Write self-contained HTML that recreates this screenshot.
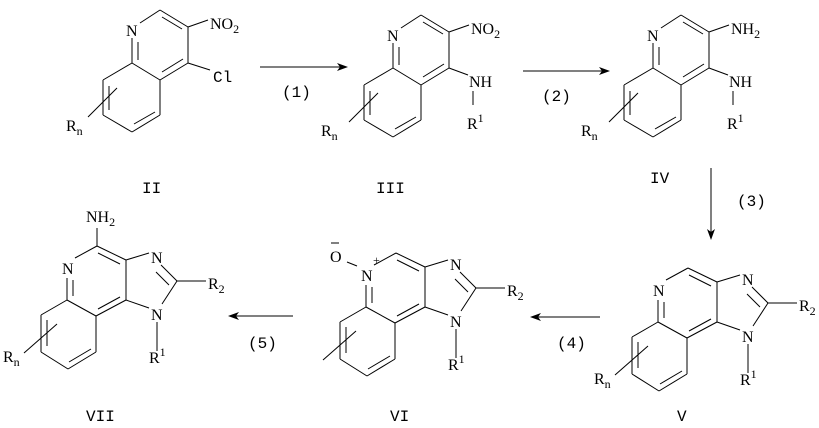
<!DOCTYPE html>
<html><head><meta charset="utf-8"><style>
html,body{margin:0;padding:0;background:#fff;}
svg{display:block;}
.a{font-family:"Liberation Serif",serif;font-size:16px;fill:#000;}
.s{font-size:12px;}
.m{font-family:"Liberation Mono",monospace;font-size:16px;fill:#000;}
</style></head><body>
<svg width="819" height="428" viewBox="0 0 819 428" xmlns="http://www.w3.org/2000/svg">
<defs>
<g id="q" stroke="#000" stroke-width="1" fill="none">
<line x1="132" y1="38" x2="132" y2="63"/><line x1="138" y1="42" x2="138" y2="60"/>
<line x1="140" y1="23" x2="160" y2="10"/>
<line x1="160" y1="10" x2="188" y2="27"/><line x1="162" y1="17" x2="182" y2="29"/>
<line x1="188" y1="27" x2="188" y2="63"/>
<line x1="188" y1="63" x2="160" y2="80"/><line x1="183" y1="59" x2="162" y2="72"/>
<line x1="160" y1="80" x2="132" y2="63"/>
<line x1="160" y1="80" x2="160" y2="115"/>
<line x1="160" y1="115" x2="132" y2="132"/><line x1="155" y1="112" x2="134" y2="124"/>
<line x1="132" y1="132" x2="103" y2="115"/>
<line x1="103" y1="115" x2="103" y2="80"/><line x1="109" y1="86" x2="109" y2="110"/>
<line x1="103" y1="80" x2="132" y2="63"/>
<line x1="88" y1="117" x2="117" y2="88"/>
</g>
<g id="t" stroke="#000" stroke-width="1" fill="none">
<line x1="658" y1="300" x2="658" y2="322"/><line x1="664" y1="302" x2="664" y2="318"/>
<line x1="666" y1="280" x2="688" y2="268"/>
<line x1="688" y1="268" x2="717" y2="282"/><line x1="689" y1="275" x2="711" y2="286"/>
<line x1="717" y1="282" x2="717" y2="322"/>
<line x1="717" y1="322" x2="687" y2="338"/><line x1="711" y1="319" x2="689" y2="331"/>
<line x1="687" y1="338" x2="658" y2="322"/>
<line x1="658" y1="322" x2="632" y2="337"/>
<line x1="632" y1="337" x2="632" y2="374"/><line x1="638" y1="342" x2="638" y2="368"/>
<line x1="632" y1="374" x2="659" y2="391"/>
<line x1="659" y1="391" x2="687" y2="374"/><line x1="660" y1="384" x2="682" y2="371"/>
<line x1="687" y1="374" x2="687" y2="338"/>
<line x1="717" y1="282" x2="740" y2="275"/>
<line x1="752" y1="287" x2="768" y2="303"/><line x1="747" y1="294" x2="760" y2="307"/>
<line x1="768" y1="303" x2="753" y2="326"/>
<line x1="740" y1="330" x2="717" y2="322"/>
<line x1="768" y1="303" x2="797" y2="303"/>
<line x1="748" y1="344" x2="748" y2="373"/>
<line x1="615" y1="375" x2="648" y2="346"/>
</g>
<g id="tt">
<text class="a" x="742" y="285">N</text>
<text class="a" x="742" y="342">N</text>
<text class="a" x="799" y="311">R<tspan class="s" dy="4">2</tspan></text>
<text class="a" x="740" y="385">R<tspan class="s" dy="-7">1</tspan></text>
</g>
</defs>

<!-- II -->
<use href="#q"/>
<text class="a" x="126" y="36">N</text>
<line x1="188" y1="27" x2="208" y2="20" stroke="#000"/>
<text class="a" x="210" y="29">NO<tspan class="s" dy="4">2</tspan></text>
<line x1="188" y1="63" x2="210" y2="70" stroke="#000"/>
<text class="m" x="213" y="82">Cl</text>
<text class="a" x="66" y="131">R<tspan class="s" dy="4">n</tspan></text>
<text class="m" x="142" y="193">II</text>

<!-- arrow 1 -->
<line x1="260" y1="67" x2="342" y2="67" stroke="#000"/>
<path d="M348 67 L337 63 L340 67 L337 71 Z" fill="#000"/>
<text class="m" x="282" y="97">(1)</text>

<!-- III -->
<g transform="translate(261,5)">
<use href="#q"/>
<text class="a" x="126" y="36">N</text>
<line x1="188" y1="27" x2="208" y2="20" stroke="#000"/>
<text class="a" x="210" y="29">NO<tspan class="s" dy="4">2</tspan></text>
<line x1="188" y1="63" x2="207" y2="70" stroke="#000"/>
<text class="a" x="208" y="82">NH</text>
<line x1="212" y1="86" x2="212" y2="100" stroke="#000"/>
<text class="a" x="206" y="124">R<tspan class="s" dy="-7">1</tspan></text>
<text class="a" x="60" y="131">R<tspan class="s" dy="4">n</tspan></text>
</g>
<text class="m" x="376" y="193">III</text>

<!-- arrow 2 -->
<line x1="523" y1="71" x2="604" y2="71" stroke="#000"/>
<path d="M610 71 L599 67 L602 71 L599 75 Z" fill="#000"/>
<text class="m" x="542" y="101">(2)</text>

<!-- IV -->
<g transform="translate(521,5)">
<use href="#q"/>
<text class="a" x="126" y="36">N</text>
<line x1="188" y1="27" x2="208" y2="20" stroke="#000"/>
<text class="a" x="210" y="29">NH<tspan class="s" dy="4">2</tspan></text>
<line x1="188" y1="63" x2="207" y2="70" stroke="#000"/>
<text class="a" x="208" y="82">NH</text>
<line x1="212" y1="86" x2="212" y2="100" stroke="#000"/>
<text class="a" x="206" y="124">R<tspan class="s" dy="-7">1</tspan></text>
<text class="a" x="60" y="131">R<tspan class="s" dy="4">n</tspan></text>
</g>
<text class="m" x="650" y="183">IV</text>

<!-- arrow 3 -->
<line x1="711" y1="168" x2="711" y2="234" stroke="#000"/>
<path d="M711 240 L707 229 L711 232 L715 229 Z" fill="#000"/>
<text class="m" x="737" y="206">(3)</text>

<!-- V -->
<use href="#t"/><use href="#tt"/>
<text class="a" x="653" y="296">N</text>
<text class="a" x="594" y="384">R<tspan class="s" dy="4">n</tspan></text>
<text class="m" x="677" y="421">V</text>

<!-- arrow 4 -->
<line x1="600" y1="317" x2="536" y2="317" stroke="#000"/>
<path d="M530 317 L541 313 L538 317 L541 321 Z" fill="#000"/>
<text class="m" x="557" y="348">(4)</text>

<!-- VI -->
<g transform="translate(-292,-15)">
<use href="#t"/><use href="#tt"/>
<text class="a" x="653" y="296">N</text>
</g>
<text class="a" x="330" y="262">O</text>
<line x1="331" y1="243" x2="339" y2="243" stroke="#000"/>
<line x1="347" y1="262" x2="357" y2="266" stroke="#000"/>
<text class="a s" x="373" y="264">+</text>
<text class="m" x="390" y="421">VI</text>

<!-- arrow 5 -->
<line x1="293" y1="316" x2="234" y2="316" stroke="#000"/>
<path d="M228 316 L239 312 L236 316 L239 320 Z" fill="#000"/>
<text class="m" x="248" y="348">(5)</text>

<!-- VII -->
<g transform="translate(-591,-22)">
<use href="#t"/><use href="#tt"/>
<text class="a" x="653" y="296">N</text>
<text class="a" x="594" y="384">R<tspan class="s" dy="4">n</tspan></text>
</g>
<line x1="97" y1="246" x2="97" y2="228" stroke="#000"/>
<text class="a" x="86" y="222">NH<tspan class="s" dy="4">2</tspan></text>
<text class="m" x="86" y="421">VII</text>
</svg>
</body></html>
